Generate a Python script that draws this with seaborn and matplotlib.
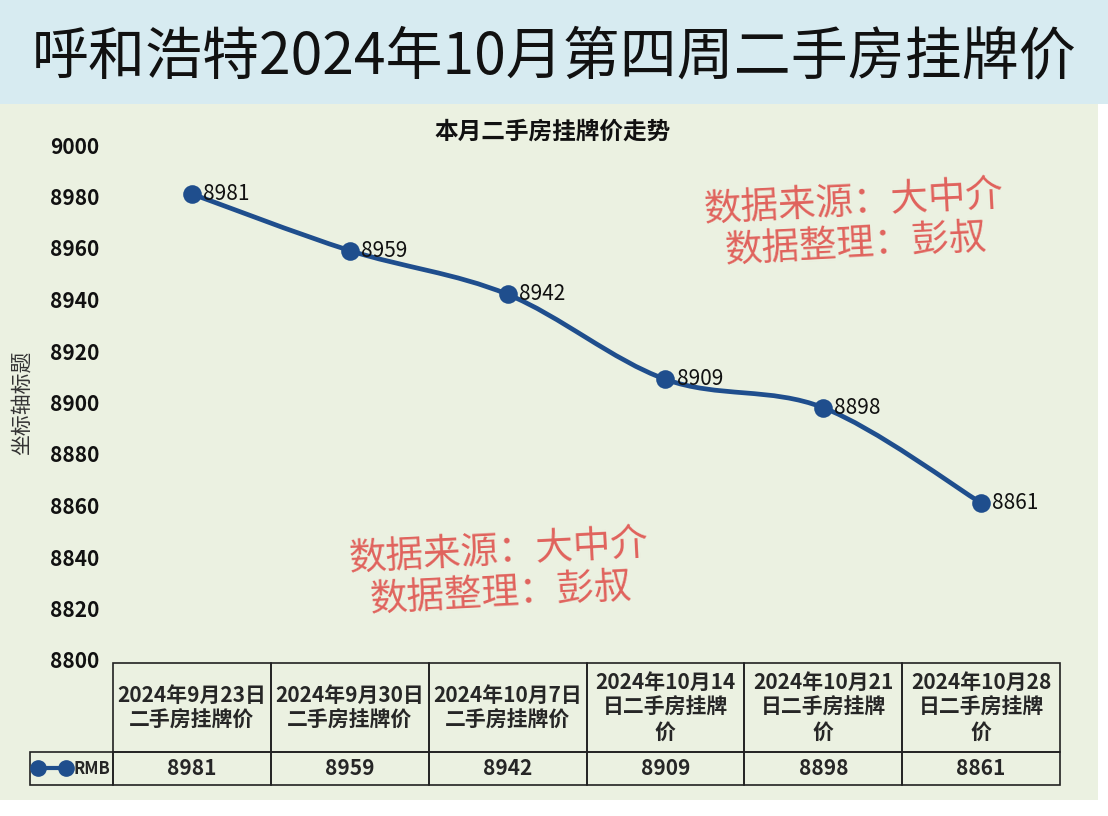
import numpy as np
import pandas as pd
import matplotlib
matplotlib.use("Agg")
import matplotlib.pyplot as plt
import seaborn as sns
from matplotlib.path import Path
from matplotlib.patches import PathPatch, Rectangle
from matplotlib.table import Table
from matplotlib.lines import Line2D

# ---- data ----
dates = [
    "2024年9月23日\n二手房挂牌价",
    "2024年9月30日\n二手房挂牌价",
    "2024年10月7日\n二手房挂牌价",
    "2024年10月14\n日二手房挂牌\n价",
    "2024年10月21\n日二手房挂牌\n价",
    "2024年10月28\n日二手房挂牌\n价",
]
prices = [8981, 8959, 8942, 8909, 8898, 8861]
series_name = "RMB"
y_ticks = list(range(8800, 9001, 20))
main_title = "呼和浩特2024年10月第四周二手房挂牌价"
chart_title = "本月二手房挂牌价走势"
y_label = "坐标轴标题"
watermark = "数据来源：大中介\n数据整理：彭叔"

sns.set_theme(style="white")
plt.rcParams["font.family"] = ["Noto Sans CJK SC", "DejaVu Sans"]

BLUE = "#1f4e8d"
W, H = 1108, 816
fig = plt.figure(figsize=(W / 100, H / 100), dpi=100, facecolor="white")

# background panels
fig.patches.append(Rectangle((0, 1 - 104 / H), 1, 104 / H, transform=fig.transFigure,
                             facecolor="#d7ebf1", edgecolor="none", zorder=-10))
fig.patches.append(Rectangle((0, 1 - 800 / H), 1098 / W, (800 - 104) / H, transform=fig.transFigure,
                             facecolor="#ebf1e1", edgecolor="none", zorder=-10))

fig.text(0.5, 1 - 57 / H, main_title, fontsize=41, ha="center", va="center", color="#111111")
fig.text(553 / W, 1 - 132 / H, chart_title, fontsize=17, ha="center", va="center",
         weight="bold", color="#111111")

ax = fig.add_axes([113 / W, 1 - 660 / H, 947 / W, 515 / H])
ax.set_facecolor("none")

n = len(prices)
df = pd.DataFrame({"idx": np.arange(n), "price": prices})

# smooth line (Catmull-Rom style Bezier through the data points)
pts = df[["idx", "price"]].to_numpy(dtype=float)
ext = np.vstack([pts[0], pts, pts[-1]])
verts = [pts[0]]
codes = [Path.MOVETO]
for i in range(n - 1):
    p0, p1, p2, p3 = ext[i], ext[i + 1], ext[i + 2], ext[i + 3]
    verts += [p1 + (p2 - p0) / 6, p2 - (p3 - p1) / 6, p2]
    codes += [Path.CURVE4] * 3
ax.add_patch(PathPatch(Path(verts, codes), facecolor="none", edgecolor=BLUE, lw=3.4,
                       capstyle="round", joinstyle="round", zorder=2))

sns.scatterplot(data=df, x="idx", y="price", s=180, color=BLUE, edgecolor=BLUE,
                linewidth=0, zorder=3, ax=ax, legend=False)

for i, v in enumerate(prices):
    ax.annotate(str(v), (i, v), xytext=(8, 0), textcoords="offset points",
                ha="left", va="center", fontsize=15, weight="medium",
                color="#111111", zorder=4)

ax.set_xlim(-0.5, n - 0.5)
ax.set_ylim(8800, 9000)
ax.set_yticks(y_ticks)
ax.set_xticks([])
ax.set_xlabel("")
ax.set_ylabel(y_label, fontsize=15, labelpad=12, color="#333333")
ax.tick_params(axis="y", length=0, pad=10, labelsize=15, labelcolor="#111111")
for lbl in ax.get_yticklabels():
    lbl.set_fontweight("bold")
for sp in ax.spines.values():
    sp.set_visible(False)

# data table beneath the plot (bbox covers the six data columns)
wl = 83 / 947
h1, h2 = 89 / 515, 33 / 515
tbl = Table(ax, bbox=[0, (660 - 785) / 515, 1, (785 - 663) / 515])
for j in range(n):
    c = tbl.add_cell(0, j, 1 / n, h1, text=dates[j], loc="center",
                     facecolor="none", edgecolor="#222222")
    c.get_text().set_fontsize(15)
    c.get_text().set_fontweight("bold")
    c.get_text().set_linespacing(1.22)
    c = tbl.add_cell(1, j, 1 / n, h2, text=str(prices[j]), loc="center",
                     facecolor="none", edgecolor="#222222")
    c.get_text().set_fontsize(15)
    c.get_text().set_fontweight("bold")
c = tbl.add_cell(1, -1, wl, h2, text=series_name, loc="right",
                 facecolor="none", edgecolor="#222222")
c.PAD = 0.03
c.get_text().set_fontsize(12)
c.get_text().set_fontweight("bold")
tbl.auto_set_font_size(False)
for cell in tbl.get_celld().values():
    cell.set_linewidth(1.2)
ax.add_table(tbl)

# legend key in the table's row header
key_y = (660 - 768) / 515
ax.add_line(Line2D([(38 - 113) / 947, (66 - 113) / 947], [key_y, key_y],
                   transform=ax.transAxes, color=BLUE, lw=3, marker="o", ms=11,
                   clip_on=False, zorder=5))

# watermarks
for (x, y) in [(855, 224), (500, 573)]:
    fig.text(x / W, 1 - y / H, watermark, fontsize=27, color="#e0625c", ha="center",
             va="center", rotation=3, linespacing=1.1, multialignment="center")

fig.savefig("out.png", dpi=100, facecolor=fig.get_facecolor())
